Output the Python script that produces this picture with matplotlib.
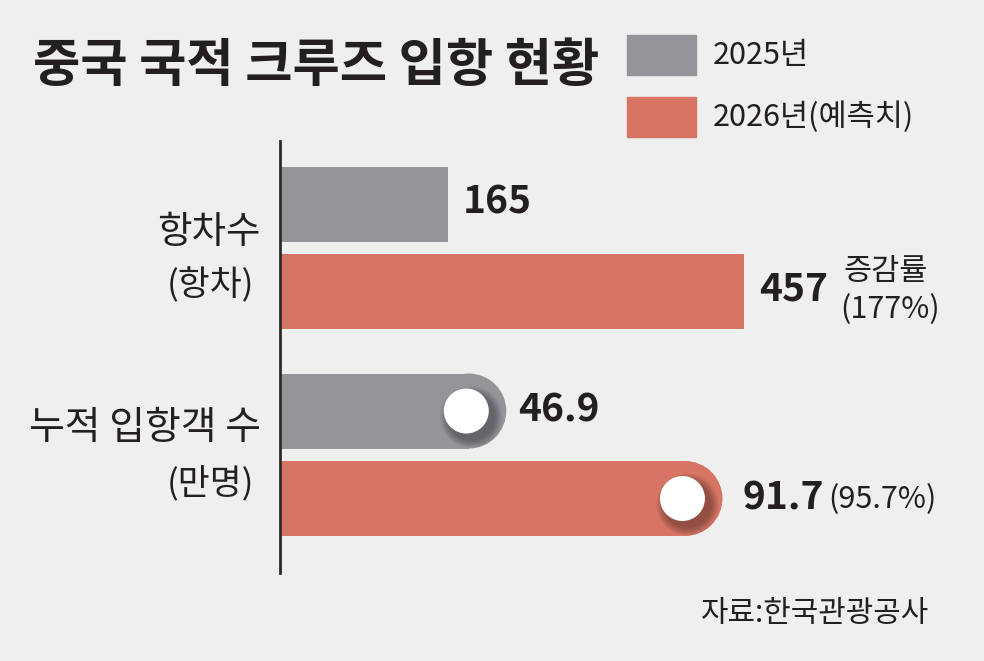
import matplotlib
matplotlib.use("Agg")
import matplotlib.pyplot as plt
from matplotlib import font_manager
from matplotlib.patches import Ellipse, Rectangle
from matplotlib.lines import Line2D

# data
groups = ["항차수", "누적 입항객 수"]
units = ["(항차)", "(만명)"]
series = ["2025년", "2026년(예측치)"]
voyages = [165, 457]
visitors = [46.9, 91.7]
voyage_labels = ["165", "457"]
visitor_labels = ["46.9", "91.7"]
growth_voyages = "(177%)"
growth_visitors = "(95.7%)"

GRAY = "#939598"
RED = "#d77464"
BG = "#efefef"
INK = "#231f20"

names = {f.name for f in font_manager.fontManager.ttflist}
narrow = "Liberation Sans Narrow" in names
KR = "Noto Sans CJK KR"
plt.rcParams["font.family"] = [KR, "DejaVu Sans"]
NUM = ["Liberation Sans Narrow", KR, "DejaVu Sans"] if narrow else [KR, "DejaVu Sans"]
num_size = 34 if narrow else 28
small_size = 27 if narrow else 22

W, H = 984, 661
fig = plt.figure(figsize=(W / 100, H / 100), dpi=100, facecolor=BG)


def fx(x):
    return x / W


def fy(y):
    return 1 - y / H


# title
fig.text(fx(33), fy(66), "중국 국적 크루즈 입항 현황", fontsize=37, fontweight="bold",
         color=INK, va="center", ha="left")

# legend boxes
for (top, col, lab) in [(35, GRAY, series[0]), (97, RED, series[1])]:
    fig.patches.append(Rectangle((fx(627), fy(top + 40)), 69 / W, 40 / H,
                                 transform=fig.transFigure, color=col))
    fig.text(fx(713), fy(top + 20), lab, fontsize=small_size, family=NUM,
             color=INK, va="center", ha="left")

# vertical axis line
fig.add_artist(Line2D([fx(280), fx(280)], [fy(141), fy(573)], color="#2b2b2b", lw=2))

step = 87.5  # px between bar centers
bar_h = 75 / step
left_px = 280


def make_ax(c0, px_per_unit):
    top = c0 - step / 2
    ax = fig.add_axes([fx(left_px), fy(top + 2 * step), (W - left_px) / W, 2 * step / H])
    ax.set_xlim(0, (W - left_px) / px_per_unit)
    ax.set_ylim(1.5, -0.5)
    ax.axis("off")
    return ax


# group 1: voyages
ax1 = make_ax(204.5, 1.016)
ax1.barh([0, 1], voyages, height=bar_h, color=[GRAY, RED])
for i, (v, t) in enumerate(zip(voyages, voyage_labels)):
    ax1.annotate(t, (v, i), xytext=(15 * 0.72, 2), textcoords="offset points",
                 fontsize=num_size, fontweight="bold", family=NUM, color=INK,
                 va="center", ha="left")
ax1.annotate("증감률", (voyages[1], 1), xytext=(99 * 0.72, 20 * 0.72),
             textcoords="offset points", fontsize=small_size, color=INK,
             va="center", ha="left")
ax1.annotate(growth_voyages, (voyages[1], 1), xytext=(96 * 0.72, -18 * 0.72),
             textcoords="offset points", fontsize=small_size, family=NUM, color=INK,
             va="center", ha="left")

# group 2: visitors, rounded bars with knobs
ppu = 4.825
ax2 = make_ax(411, ppu)
r = 37.5 / ppu
knob_r = 22.5 / ppu
cols = [GRAY, RED]
for i, v in enumerate(visitors):
    ax2.barh(i, v - r, height=bar_h, color=cols[i])
    ax2.add_patch(Ellipse((v - r, i), 2 * r, bar_h, color=cols[i], lw=0))
    cx = v - 40 / ppu
    # soft shadow
    for k in range(6):
        grow = (6 - k) * 1.4 / ppu
        ax2.add_patch(Ellipse((cx + 5 / ppu, i + 6 / step), 2 * (knob_r + grow),
                              2 * (knob_r * ppu + grow * ppu) / step,
                              color="black", alpha=0.06, lw=0))
    ax2.add_patch(Ellipse((cx, i), 2 * knob_r, 45 / step, color="white", lw=0))

ax2.annotate(visitor_labels[0], (visitors[0], 0), xytext=(12 * 0.72, 1),
             textcoords="offset points", fontsize=num_size, fontweight="bold",
             family=NUM, color=INK, va="center", ha="left")
ax2.annotate(visitor_labels[1], (visitors[1], 1), xytext=(20 * 0.72, 0),
             textcoords="offset points", fontsize=num_size, fontweight="bold",
             family=NUM, color=INK, va="center", ha="left")
ax2.annotate(growth_visitors, (visitors[1], 1), xytext=(106 * 0.72, -1),
             textcoords="offset points", fontsize=small_size, family=NUM, color=INK,
             va="center", ha="left")

# category labels
fig.text(fx(261), fy(233), groups[0], fontsize=27, color=INK, ha="right", va="center")
fig.text(fx(254), fy(286), units[0], fontsize=25, color=INK, ha="right", va="center")
fig.text(fx(261), fy(428), groups[1], fontsize=28, color=INK, ha="right", va="center")
fig.text(fx(254), fy(483), units[1], fontsize=25, color=INK, ha="right", va="center")

# source
fig.text(fx(929), fy(614), "자료:한국관광공사", fontsize=21.5, color=INK, ha="right", va="center")

fig.savefig("out.png", dpi=100, facecolor=BG)
